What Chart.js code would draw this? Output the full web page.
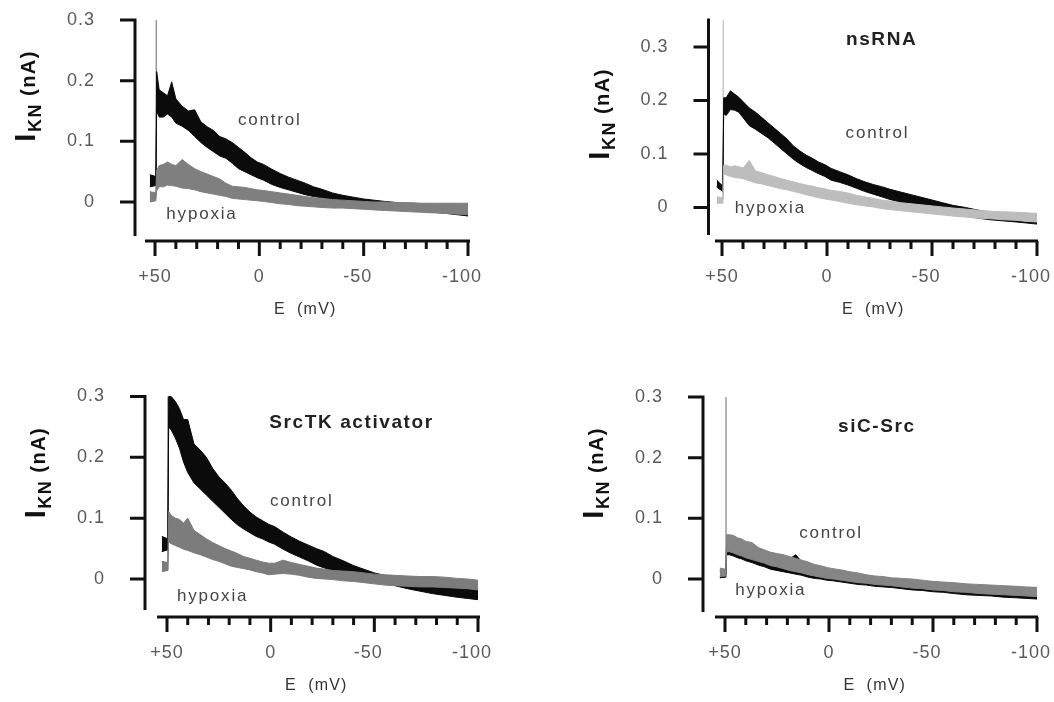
<!DOCTYPE html>
<html lang="en">
<head>
  <meta charset="UTF-8" />
  <title>IKN vs E</title>
  <script src="https://cdn.jsdelivr.net/npm/chart.js"></script>
  <style>
    body { margin: 0; background: #ffffff; }
    #wrap { position: relative; width: 1054px; height: 702px; }
    #wrap canvas { position: absolute; }
  </style>
</head>
<body>
  <div id="wrap">
    <canvas id="c1" width="527" height="351"></canvas>
    <canvas id="c2" width="527" height="351"></canvas>
    <canvas id="c3" width="527" height="351"></canvas>
    <canvas id="c4" width="527" height="351"></canvas>
  </div>

  <script>
    // membrane potential (mV), shared by every trace
    const volts = [52.5, 49.6, 49.2, 48, 46, 44, 42, 40, 37, 34, 31, 28, 25, 22, 19, 16, 13, 10, 7, 4, 1,
      -2, -6, -10, -14, -18, -22, -26, -30, -35, -40, -45, -50, -55, -60, -66, -72, -78, -84, -90, -95, -100];

    // upper / lower edge of each noisy trace (nA)
    const ctrl1Hi = [0.045, 0.042, 0.215, 0.185, 0.180, 0.175, 0.198, 0.170, 0.158, 0.150, 0.152, 0.132, 0.124, 0.118, 0.108, 0.104, 0.098, 0.090, 0.082, 0.073, 0.066,
      0.062, 0.054, 0.047, 0.041, 0.036, 0.031, 0.025, 0.021, 0.015, 0.011, 0.008, 0.005, 0.003, 0.001, -0.001, -0.003, -0.006, -0.008, -0.010, -0.012, -0.013];
    const ctrl1Lo = [0.025, 0.027, 0.150, 0.140, 0.140, 0.145, 0.140, 0.130, 0.125, 0.118, 0.108, 0.098, 0.090, 0.083, 0.076, 0.072, 0.064, 0.055, 0.050, 0.045, 0.040,
      0.036, 0.029, 0.024, 0.020, 0.016, 0.012, 0.009, 0.007, 0.003, 0.000, -0.003, -0.005, -0.007, -0.009, -0.011, -0.013, -0.015, -0.017, -0.019, -0.021, -0.023];
    const hyp1Hi = [0.017, 0.015, 0.052, 0.060, 0.062, 0.066, 0.062, 0.060, 0.070, 0.062, 0.055, 0.050, 0.046, 0.042, 0.038, 0.031, 0.026, 0.025, 0.024, 0.022, 0.020,
      0.019, 0.017, 0.015, 0.013, 0.011, 0.009, 0.007, 0.006, 0.004, 0.003, 0.002, 0.001, 0.000, 0.000, -0.001, -0.001, -0.002, -0.002, -0.002, -0.002, -0.002];
    const hyp1Lo = [0.000, 0.002, 0.018, 0.025, 0.025, 0.028, 0.027, 0.026, 0.023, 0.022, 0.020, 0.017, 0.015, 0.013, 0.011, 0.009, 0.006, 0.005, 0.004, 0.003, 0.002,
      0.001, -0.001, -0.003, -0.004, -0.006, -0.007, -0.008, -0.009, -0.010, -0.010, -0.011, -0.012, -0.013, -0.014, -0.015, -0.016, -0.017, -0.018, -0.019, -0.020, -0.021];

    const ctrl2Hi = [0.051, 0.040, 0.205, 0.205, 0.218, 0.212, 0.206, 0.198, 0.186, 0.178, 0.168, 0.158, 0.148, 0.138, 0.128, 0.115, 0.106, 0.098, 0.092, 0.085, 0.080,
      0.073, 0.067, 0.061, 0.054, 0.048, 0.043, 0.039, 0.034, 0.029, 0.024, 0.019, 0.014, 0.009, 0.004, 0.000, -0.005, -0.009, -0.011, -0.013, -0.015, -0.017];
    const ctrl2Lo = [0.038, 0.030, 0.175, 0.172, 0.183, 0.182, 0.178, 0.168, 0.153, 0.146, 0.138, 0.130, 0.120, 0.110, 0.100, 0.090, 0.082, 0.075, 0.069, 0.063, 0.058,
      0.051, 0.047, 0.042, 0.036, 0.030, 0.025, 0.020, 0.015, 0.010, 0.006, 0.002, -0.002, -0.007, -0.011, -0.016, -0.020, -0.023, -0.025, -0.027, -0.029, -0.031];
    const hyp2Hi = [0.020, 0.018, 0.079, 0.079, 0.076, 0.078, 0.076, 0.074, 0.088, 0.068, 0.065, 0.061, 0.058, 0.054, 0.051, 0.048, 0.045, 0.042, 0.040, 0.037, 0.035,
      0.032, 0.030, 0.027, 0.023, 0.020, 0.017, 0.014, 0.012, 0.009, 0.007, 0.005, 0.003, 0.001, -0.001, -0.003, -0.005, -0.007, -0.008, -0.009, -0.010, -0.011];
    const hyp2Lo = [0.008, 0.008, 0.062, 0.061, 0.058, 0.056, 0.055, 0.054, 0.050, 0.046, 0.044, 0.041, 0.038, 0.035, 0.033, 0.030, 0.027, 0.024, 0.021, 0.018, 0.016,
      0.014, 0.011, 0.008, 0.005, 0.003, 0.001, -0.002, -0.004, -0.006, -0.008, -0.010, -0.012, -0.014, -0.016, -0.018, -0.020, -0.021, -0.023, -0.024, -0.026, -0.027];

    const ctrl3Hi = [0.070, 0.066, 0.300, 0.300, 0.292, 0.280, 0.262, 0.262, 0.222, 0.212, 0.200, 0.182, 0.168, 0.158, 0.146, 0.132, 0.120, 0.110, 0.102, 0.096, 0.090,
      0.086, 0.077, 0.069, 0.062, 0.056, 0.050, 0.045, 0.037, 0.030, 0.022, 0.016, 0.010, 0.006, 0.002, -0.003, -0.006, -0.010, -0.012, -0.013, -0.014, -0.015];
    const ctrl3Lo = [0.045, 0.048, 0.250, 0.245, 0.232, 0.215, 0.192, 0.175, 0.158, 0.148, 0.138, 0.128, 0.118, 0.108, 0.098, 0.089, 0.082, 0.076, 0.070, 0.066, 0.061,
      0.057, 0.049, 0.042, 0.036, 0.030, 0.023, 0.018, 0.014, 0.010, 0.005, 0.001, -0.003, -0.007, -0.011, -0.016, -0.020, -0.024, -0.027, -0.030, -0.032, -0.034];
    const hyp3Hi = [0.029, 0.027, 0.111, 0.105, 0.100, 0.098, 0.092, 0.100, 0.080, 0.073, 0.066, 0.060, 0.055, 0.050, 0.046, 0.042, 0.037, 0.034, 0.031, 0.028, 0.026,
      0.026, 0.031, 0.027, 0.024, 0.021, 0.018, 0.016, 0.014, 0.013, 0.012, 0.010, 0.008, 0.007, 0.006, 0.005, 0.004, 0.004, 0.003, 0.001, 0.000, -0.002];
    const hyp3Lo = [0.012, 0.014, 0.061, 0.058, 0.055, 0.052, 0.049, 0.047, 0.043, 0.040, 0.036, 0.032, 0.029, 0.025, 0.021, 0.019, 0.017, 0.015, 0.012, 0.010, 0.007,
      0.008, 0.009, 0.008, 0.006, 0.003, 0.001, 0.000, -0.001, -0.003, -0.004, -0.006, -0.008, -0.010, -0.011, -0.012, -0.013, -0.013, -0.014, -0.015, -0.016, -0.018];

    const ctrl4Hi = [0.014, 0.014, 0.062, 0.062, 0.060, 0.058, 0.056, 0.052, 0.049, 0.046, 0.043, 0.040, 0.037, 0.035, 0.033, 0.040, 0.028, 0.025, 0.021, 0.019, 0.017,
      0.014, 0.011, 0.009, 0.007, 0.005, 0.003, 0.002, 0.001, -0.001, -0.002, -0.004, -0.005, -0.007, -0.008, -0.010, -0.011, -0.012, -0.013, -0.014, -0.015, -0.015];
    const ctrl4Lo = [0.002, 0.003, 0.040, 0.040, 0.038, 0.035, 0.033, 0.030, 0.027, 0.023, 0.020, 0.016, 0.014, 0.012, 0.010, 0.008, 0.006, 0.003, 0.001, 0.000, -0.002,
      -0.003, -0.005, -0.007, -0.009, -0.010, -0.012, -0.013, -0.014, -0.016, -0.018, -0.019, -0.021, -0.022, -0.024, -0.026, -0.027, -0.028, -0.030, -0.031, -0.032, -0.033];
    const hyp4Hi = [0.018, 0.016, 0.073, 0.073, 0.072, 0.068, 0.066, 0.062, 0.060, 0.052, 0.048, 0.044, 0.042, 0.040, 0.037, 0.034, 0.031, 0.028, 0.024, 0.022, 0.019,
      0.017, 0.015, 0.012, 0.010, 0.007, 0.005, 0.004, 0.002, 0.001, 0.000, -0.002, -0.004, -0.005, -0.006, -0.008, -0.009, -0.010, -0.011, -0.012, -0.013, -0.014];
    const hyp4Lo = [0.004, 0.005, 0.045, 0.045, 0.043, 0.040, 0.038, 0.035, 0.032, 0.029, 0.026, 0.022, 0.020, 0.017, 0.014, 0.012, 0.010, 0.007, 0.005, 0.003, 0.001,
      0.000, -0.002, -0.004, -0.006, -0.007, -0.009, -0.010, -0.011, -0.013, -0.015, -0.016, -0.018, -0.019, -0.021, -0.022, -0.024, -0.025, -0.026, -0.027, -0.028, -0.029];

    // capacitive transient at the step (one per panel)
    const spikeVolt = [49.4, 49.4, 49.6, 49.5];
    const spikeBase = [0.012, 0.015, 0.015, 0.006];
    const spikeTop = [0.30, 0.35, 0.30, 0.30];

    // axes
    const yTickValues = [0, 0.1, 0.2, 0.3];
    const yTickLabels = ['0', '0.1', '0.2', '0.3'];
    const xTickValues = [50, 40, 30, 20, 10, 0, -10, -20, -30, -40, -50, -60, -70, -80, -90, -100];
    const xLabelValues = [50, 0, -50, -100];
    const xLabelText = ['+50', '0', '-50', '-100'];
    const panelTitles = ['', 'nsRNA', 'SrcTK activator', 'siC-Src'];

    const FONT = '"Liberation Sans", Arial, Helvetica, sans-serif';
    const W = 527, H = 351, X_MAX = 55, Y_MIN = -0.07;

    // page geometry of each panel (pixels) + where the labels sit (data units)
    const panels = [
      { id: 'c1', ox: 0, oy: 0, xp50: 155, xm100: 468, y0: 202, y3: 20, yMax: 0.32,
        axisX: 135, axisTop: 20, axisBottom: 236, axisY: 241, axisLeft: 145, axisRight: 470,
        hypColor: '#7f7f7f', spikeColor: '#8a8a8a',
        ctrlHi: ctrl1Hi, ctrlLo: ctrl1Lo, hypHi: hyp1Hi, hypLo: hyp1Lo,
        title: null, control: [-5, 0.135], hypoxia: [27.5, -0.020] },
      { id: 'c2', ox: 527, oy: 0, xp50: 722, xm100: 1037, y0: 207.5, y3: 47, yMax: 0.36,
        axisX: 708.5, axisTop: 20, axisBottom: 235, axisY: 241, axisLeft: 715, axisRight: 1038,
        hypColor: '#bdbdbd', spikeColor: '#c2c2c2',
        ctrlHi: ctrl2Hi, ctrlLo: ctrl2Lo, hypHi: hyp2Hi, hypLo: hyp2Lo,
        title: [-26, 0.313], control: [-24, 0.139], hypoxia: [27, -0.001] },
      { id: 'c3', ox: 0, oy: 351, xp50: 167, xm100: 478, y0: 579, y3: 396.5, yMax: 0.32,
        axisX: 145, axisTop: 396.5, axisBottom: 610, axisY: 617, axisLeft: 157, axisRight: 480,
        hypColor: '#7c7c7c', spikeColor: '#999999',
        ctrlHi: ctrl3Hi, ctrlLo: ctrl3Lo, hypHi: hyp3Hi, hypLo: hyp3Lo,
        title: [-39, 0.257], control: [-15, 0.127], hypoxia: [28, -0.028] },
      { id: 'c4', ox: 527, oy: 351, xp50: 725, xm100: 1037, y0: 579, y3: 397, yMax: 0.32,
        axisX: 703, axisTop: 397, axisBottom: 612, axisY: 617, axisLeft: 715, axisRight: 1038,
        hypColor: '#858585', spikeColor: '#8a8a8a',
        ctrlHi: ctrl4Hi, ctrlLo: ctrl4Lo, hypHi: hyp4Hi, hypLo: hyp4Lo,
        title: [-23, 0.251], control: [-1, 0.076], hypoxia: [28, -0.019] }
    ];

    function series(arr) {
      return volts.map((v, i) => ({ x: v, y: arr[i] }));
    }

    function label(ctx, text, x, y, font, color, align, spacing) {
      ctx.font = font;
      ctx.fillStyle = color;
      ctx.textAlign = align;
      ctx.textBaseline = 'middle';
      ctx.letterSpacing = spacing;
      ctx.fillText(text, x, y);
    }

    // axes drawn Prism-style (offset from each other), positioned from the chart scales
    function frame(p, idx) {
      return {
        id: 'frame' + idx,
        afterDraw(chart) {
          const ctx = chart.ctx;
          const xs = chart.scales.x, ys = chart.scales.y;
          const ax = p.axisX - p.ox, ay = p.axisY - p.oy;
          ctx.save();
          ctx.strokeStyle = '#111';
          ctx.lineWidth = 3;
          ctx.lineCap = 'butt';
          ctx.beginPath();
          ctx.moveTo(ax, p.axisTop - p.oy - 1.5);
          ctx.lineTo(ax, p.axisBottom - p.oy);
          yTickValues.forEach(v => {
            const y = ys.getPixelForValue(v);
            ctx.moveTo(ax, y);
            ctx.lineTo(ax - 15, y);
          });
          ctx.moveTo(p.axisLeft - p.ox, ay);
          ctx.lineTo(p.axisRight - p.ox, ay);
          xTickValues.forEach(v => {
            const x = xs.getPixelForValue(v);
            ctx.moveTo(x, ay);
            ctx.lineTo(x, ay + (v % 50 === 0 ? 15 : 8));
          });
          ctx.stroke();

          yTickValues.forEach((v, i) => {
            label(ctx, yTickLabels[i], ax - 40, ys.getPixelForValue(v), '18px ' + FONT, '#5a5a5a', 'right', '1px');
          });
          xLabelValues.forEach((v, i) => {
            const shift = xLabelText[i].startsWith('-') ? -6 : 0;
            label(ctx, xLabelText[i], xs.getPixelForValue(v) + shift, ay + 36, '18px ' + FONT, '#5a5a5a', 'center', '1px');
          });
          label(ctx, 'E  (mV)', xs.getPixelForValue(-22), ay + 69, '16px ' + FONT, '#333', 'center', '1.2px');

          // trace labels and panel title
          label(ctx, 'control', xs.getPixelForValue(p.control[0]), ys.getPixelForValue(p.control[1]), '17px ' + FONT, '#444', 'center', '1.8px');
          label(ctx, 'hypoxia', xs.getPixelForValue(p.hypoxia[0]), ys.getPixelForValue(p.hypoxia[1]), '17px ' + FONT, '#444', 'center', '1.8px');
          if (p.title) {
            label(ctx, panelTitles[idx], xs.getPixelForValue(p.title[0]), ys.getPixelForValue(p.title[1]), 'bold 19px ' + FONT, '#222', 'center', '1.6px');
          }

          // rotated y title: I with subscript KN, then (nA)
          ctx.translate(ax - 110, ys.getPixelForValue(0.175));
          ctx.rotate(-Math.PI / 2);
          ctx.fillStyle = '#111';
          ctx.textAlign = 'left';
          ctx.textBaseline = 'alphabetic';
          ctx.letterSpacing = '1.5px';
          const parts = [['I', 'bold 29px ' + FONT, 10], ['KN', 'bold 18px ' + FONT, 16], [' (nA)', 'bold 20px ' + FONT, 10]];
          let total = 0;
          parts.forEach(pt => { ctx.font = pt[1]; total += ctx.measureText(pt[0]).width; });
          let x = -total / 2;
          parts.forEach(pt => {
            ctx.font = pt[1];
            ctx.fillText(pt[0], x, pt[2]);
            x += ctx.measureText(pt[0]).width;
          });
          ctx.restore();
        }
      };
    }

    panels.forEach((p, idx) => {
      const kx = (p.xm100 - p.xp50) / 150;
      const ky = (p.y0 - p.y3) / 0.3;
      const pad = {
        left: p.xp50 - (X_MAX - 50) * kx - p.ox,
        right: p.ox + W - p.xm100,
        top: p.y0 - p.yMax * ky - p.oy,
        bottom: p.oy + H - (p.y0 - Y_MIN * ky)
      };
      const canvas = document.getElementById(p.id);
      canvas.style.left = p.ox + 'px';
      canvas.style.top = p.oy + 'px';

      new Chart(canvas, {
        type: 'line',
        data: {
          datasets: [
            { label: 'hypoxia low', data: series(p.hypLo), borderColor: p.hypColor, backgroundColor: p.hypColor, fill: false, order: 1 },
            { label: 'hypoxia', data: series(p.hypHi), borderColor: p.hypColor, backgroundColor: p.hypColor, fill: '-1', order: 1 },
            { label: 'control low', data: series(p.ctrlLo), borderColor: '#0b0b0b', backgroundColor: '#0b0b0b', fill: false, order: 2 },
            { label: 'control', data: series(p.ctrlHi), borderColor: '#0b0b0b', backgroundColor: '#0b0b0b', fill: '-1', order: 2 },
            { label: 'transient', data: [{ x: spikeVolt[idx], y: spikeBase[idx] }, { x: spikeVolt[idx], y: spikeTop[idx] }],
              borderColor: p.spikeColor, borderWidth: 1.3, fill: false, order: 3 }
          ]
        },
        options: {
          responsive: false,
          animation: false,
          devicePixelRatio: 1,
          layout: { padding: pad },
          elements: { point: { radius: 0 }, line: { tension: 0, borderWidth: 1 } },
          plugins: { legend: { display: false }, tooltip: { enabled: false } },
          scales: {
            x: { type: 'linear', min: -100, max: X_MAX, reverse: true, display: false },
            y: { type: 'linear', min: Y_MIN, max: p.yMax, display: false }
          }
        },
        plugins: [frame(p, idx)]
      });
    });
  </script>
</body>
</html>
